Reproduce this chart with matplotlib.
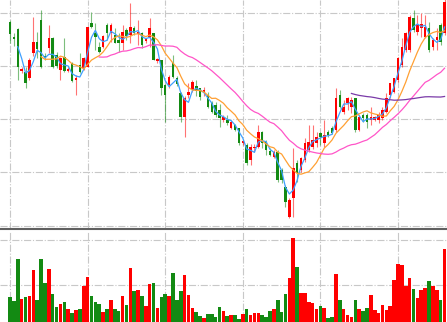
import pandas as pd
import matplotlib.pyplot as plt
import numpy as np

# Dados OHLC e volume (113 pregões)
opens = [28.90, 28.15, 28.55, 26.45, 26.40, 26.10, 27.35, 27.90, 29.00, 27.20,
         27.60, 28.10, 27.25, 26.50, 27.15, 26.45, 26.85, 26.00, 26.75, 26.60,
         26.65, 28.85, 28.35, 27.65, 27.65, 28.75, 28.35, 28.25, 28.00, 27.85,
         28.50, 28.25, 28.60, 28.30, 28.35, 27.95, 28.15, 28.35, 26.95, 27.00,
         25.75, 25.75, 26.85, 26.10, 25.35, 24.15, 25.25, 25.50, 25.70, 25.60,
         25.40, 25.25, 24.85, 24.75, 24.50, 24.00, 24.00, 23.60, 23.75, 23.60,
         22.85, 22.75, 22.00, 22.60, 22.65, 23.40, 22.90, 22.45, 22.15, 22.40,
         21.50, 20.65, 19.15, 20.10, 21.85, 21.50, 22.00, 22.50, 22.65, 22.85,
         23.35, 22.85, 23.40, 23.60, 23.50, 25.25, 24.40, 24.85, 24.65, 25.10,
         23.50, 24.25, 24.25, 24.00, 24.00, 24.00, 24.10, 24.40, 25.25, 25.40,
         26.00, 26.75, 27.50, 27.50, 29.10, 28.40, 28.60, 28.15, 28.60, 27.65,
         28.00, 28.75, 28.35]
highs = [29.00, 28.35, 28.60, 26.65, 26.65, 27.10, 29.15, 28.40, 29.50, 27.35,
         28.75, 28.15, 27.40, 27.15, 28.10, 26.65, 26.90, 26.25, 27.35, 27.15,
         28.65, 29.40, 28.85, 27.90, 28.25, 28.85, 28.85, 28.60, 28.35, 28.75,
         28.60, 29.85, 28.70, 29.00, 28.40, 28.10, 29.10, 28.35, 27.10, 27.00,
         25.80, 26.25, 27.25, 26.20, 25.40, 25.20, 25.85, 26.00, 26.00, 25.60,
         25.65, 25.40, 24.95, 24.90, 24.80, 24.25, 24.25, 24.00, 23.80, 23.60,
         23.00, 22.85, 22.80, 22.80, 23.75, 23.45, 23.00, 22.60, 22.50, 22.50,
         21.60, 20.75, 20.10, 22.60, 22.00, 22.15, 23.10, 23.75, 23.75, 23.40,
         23.40, 24.00, 23.50, 23.70, 25.60, 25.50, 25.00, 25.15, 25.15, 25.10,
         24.25, 24.35, 24.35, 24.65, 24.20, 24.40, 24.65, 25.35, 25.85, 26.10,
         27.15, 28.10, 28.40, 29.25, 29.50, 29.25, 29.35, 29.25, 28.90, 28.10,
         28.60, 28.85, 30.15]
lows = [27.85, 27.70, 26.00, 26.35, 25.60, 26.00, 27.20, 27.10, 26.60, 27.00,
        27.35, 26.60, 26.60, 26.00, 26.40, 26.40, 25.90, 25.25, 26.35, 26.50,
        26.65, 28.60, 27.50, 27.35, 27.60, 28.00, 27.90, 27.85, 27.40, 27.50,
        28.00, 27.85, 28.25, 27.75, 27.60, 27.85, 27.65, 27.00, 26.85, 25.25,
        23.90, 25.60, 26.10, 25.70, 23.90, 23.15, 25.10, 25.40, 25.20, 25.00,
        25.20, 24.60, 24.35, 24.15, 23.65, 23.90, 23.75, 23.55, 23.45, 22.75,
        22.75, 21.75, 21.75, 22.40, 22.60, 22.60, 22.25, 22.20, 22.10, 20.90,
        20.85, 19.65, 19.10, 19.15, 20.90, 21.40, 21.90, 22.40, 22.55, 22.65,
        22.75, 22.65, 23.15, 23.30, 23.40, 24.60, 24.30, 24.50, 24.35, 23.40,
        23.45, 23.90, 23.60, 23.75, 23.95, 23.85, 24.00, 24.35, 25.10, 25.35,
        25.90, 26.65, 27.40, 27.40, 28.40, 28.25, 28.15, 28.10, 27.40, 27.50,
        27.50, 27.75, 28.25]
closes = [28.30, 28.05, 26.65, 26.55, 25.85, 27.00, 27.90, 27.55, 26.65, 27.10,
          28.10, 26.65, 26.70, 27.10, 26.45, 26.55, 25.95, 26.10, 26.40, 27.10,
          28.65, 28.65, 28.15, 27.40, 28.20, 28.35, 28.75, 27.85, 27.85, 28.40,
          28.20, 28.65, 28.35, 28.40, 27.75, 28.05, 28.60, 27.00, 27.05, 25.60,
          25.25, 26.15, 26.15, 25.80, 24.15, 25.10, 25.40, 25.90, 25.45, 25.15,
          25.50, 24.65, 24.40, 24.25, 24.10, 24.15, 23.85, 23.90, 23.50, 22.85,
          22.95, 21.85, 22.65, 22.65, 23.40, 22.85, 22.50, 22.25, 22.40, 21.00,
          21.00, 19.90, 20.00, 21.60, 21.35, 22.10, 22.85, 22.90, 23.00, 23.15,
          23.15, 23.25, 23.25, 23.35, 25.10, 24.65, 24.65, 25.10, 25.00, 23.50,
          24.15, 24.10, 23.90, 24.15, 24.15, 24.25, 24.50, 25.10, 25.85, 26.10,
          27.10, 27.65, 28.35, 29.15, 28.50, 28.75, 28.80, 28.65, 27.50, 28.00,
          28.15, 27.90, 29.90]
volumes = [36.3, 32.2, 79.2, 34.8, 37.0, 37.8, 66.7, 33.3, 78.9, 52.2,
           67.8, 40.3, 25.6, 28.6, 31.1, 23.7, 18.9, 22.2, 23.3, 48.9,
           59.2, 37.4, 30.8, 29.2, 20.3, 23.3, 33.3, 23.3, 21.1, 37.4,
           27.8, 68.6, 43.3, 44.8, 38.1, 26.7, 51.1, 52.6, 24.8, 36.7,
           40.3, 37.8, 63.0, 33.7, 43.0, 61.1, 38.9, 24.8, 19.7, 15.9,
           13.7, 17.4, 17.4, 14.8, 25.6, 20.6, 15.9, 16.7, 16.7, 11.9,
           17.4, 23.3, 16.7, 19.2, 19.2, 16.7, 14.8, 21.4, 23.3, 33.3,
           20.0, 40.0, 57.8, 101.9, 69.7, 41.4, 41.4, 31.4, 29.7, 23.0,
           26.3, 24.8, 13.0, 14.1, 61.9, 33.0, 23.3, 16.7, 14.4, 33.0,
           23.3, 21.1, 24.8, 38.6, 22.2, 19.2, 27.4, 22.2, 26.7, 55.6,
           73.3, 71.9, 48.6, 57.4, 45.6, 35.2, 44.4, 46.7, 54.8, 48.9,
           44.4, 33.0, 90.0]

df = pd.DataFrame({'open': opens, 'high': highs, 'low': lows,
                   'close': closes, 'volume': volumes})
x = np.arange(len(df))

# Médias móveis
ma_cfg = [(3, '#3fa0ff'), (9, '#ffa033'), (24, '#ff55c8'), (89, '#7a3aa8')]

up = df['close'] >= df['open']
cores = np.where(up, '#ff0000', '#138a13')

fig = plt.figure(figsize=(4.47, 3.22), dpi=100)
ax = fig.add_axes([0, 93 / 322, 1, 229 / 322])
axv = fig.add_axes([0, 0, 1, 91 / 322])

# Gráfico 1: candles
ax.vlines(x, df['low'], df['high'], color=cores, linewidth=0.8, alpha=0.55, zorder=2)
corpo = (df['close'] - df['open']).abs().clip(lower=0.06)
ax.bar(x, corpo, bottom=np.minimum(df['open'], df['close']), width=0.65,
       color=cores, linewidth=0, zorder=3)
for w, c in ma_cfg:
    ax.plot(x, df['close'].rolling(w).mean(), color=c, linewidth=0.9, zorder=4)

ax.set_xlim(-2.58, 112.63)
ax.set_ylim(18.55, 30.0)
ax.set_xticks(np.arange(0, 113, 20))
ax.set_yticks([29.35, 26.70, 24.05, 21.40, 18.70])

# Gráfico 2: volume
axv.bar(x, df['volume'], width=0.92, color=cores, linewidth=0)
axv.set_xlim(-2.58, 112.63)
axv.set_ylim(8.9, 110)
axv.set_xticks(np.arange(0, 113, 20))
axv.set_yticks([50, 100])

for a in (ax, axv):
    a.grid(True, linestyle='-.', color='#c8c8c8', linewidth=0.8)
    a.set_axisbelow(True)
    a.tick_params(left=False, bottom=False, labelleft=False, labelbottom=False)
    for s in a.spines.values():
        s.set_visible(False)
ax.spines['bottom'].set_visible(True)
ax.spines['bottom'].set_color('#606060')
ax.spines['bottom'].set_linewidth(1.5)

fig.savefig('out.png', dpi=100)
